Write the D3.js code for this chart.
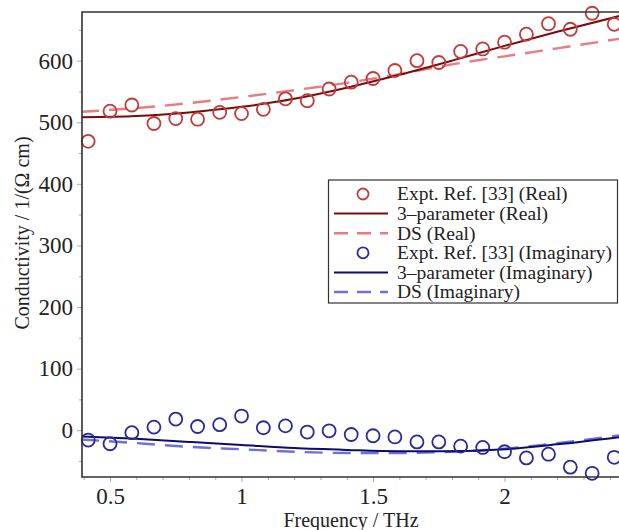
<!DOCTYPE html>
<html>
<head>
<meta charset="utf-8">
<script src="https://cdn.jsdelivr.net/npm/d3@7"></script>
<style>
  html, body { margin: 0; padding: 0; background: #fff; }
  svg { display: block; }
  text { font-family: "Liberation Serif", "DejaVu Serif", serif; fill: #222; }
</style>
</head>
<body>
<script>
// ---- data ----
const exptFreq = [0.417, 0.5, 0.583, 0.667, 0.75, 0.833, 0.917, 1.0, 1.083, 1.167, 1.25, 1.333, 1.417,
                  1.5, 1.583, 1.667, 1.75, 1.833, 1.917, 2.0, 2.083, 2.167, 2.25, 2.333, 2.417];
const exptReal = [469, 518, 528, 498, 506, 505, 516, 514, 521, 538, 535, 554, 565,
                  571, 584, 600, 597, 615, 619, 630, 643, 660, 651, 677, 659];
const exptImag = [-16, -22, -4, 5, 18, 6, 9, 23, 4, 7, -3, -1, -7,
                  -9, -11, -19, -19, -26, -28, -35, -45, -39, -60, -70, -44];

const fitFreq    = [0.39, 0.6, 0.8, 1.0, 1.2, 1.4, 1.6, 1.8, 2.0, 2.2, 2.46];
const threeReal  = [508, 510, 516, 525, 538, 556, 577, 600, 624, 647, 675];
const dsReal     = [517, 523, 531, 541, 552, 564, 578, 594, 607, 620, 637];
const threeImag  = [-10, -14, -19, -24, -29, -32, -34, -34, -31, -23, -10];
const dsImag     = [-15, -21, -27, -31, -35, -37, -37, -35, -30, -21, -7];

const xMajor = [0.5, 1, 1.5, 2];
const xMinor = [0.4, 0.6, 0.7, 0.8, 0.9, 1.1, 1.2, 1.3, 1.4, 1.6, 1.7, 1.8, 1.9, 2.1, 2.2, 2.3, 2.4];
const yMajor = [0, 100, 200, 300, 400, 500, 600];
const yMinor = [-50, 50, 150, 250, 350, 450, 550, 650];

const legendLabels = [
  "Expt. Ref. [33] (Real)",
  "3\u2013parameter (Real)",
  "DS (Real)",
  "Expt. Ref. [33] (Imaginary)",
  "3\u2013parameter (Imaginary)",
  "DS (Imaginary)"
];

(function () {
// ---- layout ----
const W = 619, H = 530;
const pL = 82, pR = 622, pT = 12, pB = 477;

const svg = d3.select("body").append("svg").attr("width", W).attr("height", H);

const x = d3.scaleLinear().domain([0.3935, 2.4465]).range([pL, pR]);
const y = d3.scaleLinear().domain([-76, 679]).range([pB, pT]);

const colors = {
  redPt: "#c33a3a", redLine: "#7d0a0a", redDash: "#ea7b80",
  bluePt: "#2a2a9c", blueLine: "#0b0b70", blueDash: "#6f6fe0"
};

svg.append("defs").append("clipPath").attr("id", "clip")
  .append("rect").attr("x", pL).attr("y", pT).attr("width", pR - pL).attr("height", pB - pT);

// ---- axes ----
const tickColor = "#aaa";
const fontTick = 23;

const xAxisMajor = svg.append("g").attr("transform", `translate(0,${pB})`)
  .call(d3.axisBottom(x).tickValues(xMajor).tickSize(5).tickPadding(6).tickFormat(d3.format("")));
xAxisMajor.select(".domain").remove();
xAxisMajor.selectAll("line").attr("stroke", tickColor);
xAxisMajor.selectAll("text").attr("font-size", fontTick).attr("font-family", "Liberation Serif").attr("fill", "#222");

const xAxisMinor = svg.append("g").attr("transform", `translate(0,${pB})`)
  .call(d3.axisBottom(x).tickValues(xMinor).tickSize(3).tickFormat(""));
xAxisMinor.select(".domain").remove();
xAxisMinor.selectAll("line").attr("stroke", tickColor);

const yAxisMajor = svg.append("g").attr("transform", `translate(${pL},0)`)
  .call(d3.axisLeft(y).tickValues(yMajor).tickSize(5).tickPadding(4));
yAxisMajor.select(".domain").remove();
yAxisMajor.selectAll("line").attr("stroke", tickColor);
yAxisMajor.selectAll("text").attr("font-size", fontTick).attr("font-family", "Liberation Serif").attr("fill", "#222");

const yAxisMinor = svg.append("g").attr("transform", `translate(${pL},0)`)
  .call(d3.axisLeft(y).tickValues(yMinor).tickSize(3).tickFormat(""));
yAxisMinor.select(".domain").remove();
yAxisMinor.selectAll("line").attr("stroke", tickColor);

// ---- curves ----
const plot = svg.append("g").attr("clip-path", "url(#clip)");

function lineFor(vals) {
  return d3.line()
    .x((d, i) => x(fitFreq[i]))
    .y(d => y(d))
    .curve(d3.curveMonotoneX)(vals);
}

plot.append("path").attr("d", lineFor(dsReal)).attr("fill", "none")
  .attr("stroke", colors.redDash).attr("stroke-width", 2.4).attr("stroke-dasharray", "18,10");
plot.append("path").attr("d", lineFor(threeReal)).attr("fill", "none")
  .attr("stroke", colors.redLine).attr("stroke-width", 2);
plot.append("path").attr("d", lineFor(dsImag)).attr("fill", "none")
  .attr("stroke", colors.blueDash).attr("stroke-width", 2.4).attr("stroke-dasharray", "18,10");
plot.append("path").attr("d", lineFor(threeImag)).attr("fill", "none")
  .attr("stroke", colors.blueLine).attr("stroke-width", 2);

// ---- points ----
const r = 6.5;
svg.append("g").selectAll("circle").data(exptReal).join("circle")
  .attr("cx", (d, i) => x(exptFreq[i])).attr("cy", d => y(d)).attr("r", r)
  .attr("fill", "none").attr("stroke", colors.redPt).attr("stroke-width", 1.8);
svg.append("g").selectAll("circle").data(exptImag).join("circle")
  .attr("cx", (d, i) => x(exptFreq[i])).attr("cy", d => y(d)).attr("r", r)
  .attr("fill", "none").attr("stroke", colors.bluePt).attr("stroke-width", 1.8);

// ---- frame ----
svg.append("path")
  .attr("d", `M${pR},${pT}H${pL}V${pB}H${pR}`)
  .attr("fill", "none").attr("stroke", "#333").attr("stroke-width", 1.6);

// ---- axis labels ----
svg.append("text").attr("x", 351).attr("y", 527).attr("text-anchor", "middle")
  .attr("font-size", 20).text("Frequency / THz");
svg.append("text").attr("transform", "translate(29,233) rotate(-90)").attr("text-anchor", "middle")
  .attr("font-size", 20).text("Conductivity / 1/(\u03A9 cm)");

// ---- legend ----
const lg = svg.append("g");
lg.append("rect").attr("x", 328.5).attr("y", 180).attr("width", 289).attr("height", 123)
  .attr("fill", "#fff").attr("stroke", "#333").attr("stroke-width", 1.2);

const legendKinds = [
  { type: "pt", color: colors.redPt },
  { type: "line", color: colors.redLine },
  { type: "dash", color: colors.redDash },
  { type: "pt", color: colors.bluePt },
  { type: "line", color: colors.blueLine },
  { type: "dash", color: colors.blueDash }
];
const rowY0 = 194, rowStep = 19.6;
legendKinds.forEach((k, i) => {
  const cy = rowY0 + i * rowStep;
  if (k.type === "pt") {
    lg.append("circle").attr("cx", 363).attr("cy", cy).attr("r", 5.5)
      .attr("fill", "none").attr("stroke", k.color).attr("stroke-width", 1.8);
  } else if (k.type === "line") {
    lg.append("line").attr("x1", 334).attr("x2", 388).attr("y1", cy).attr("y2", cy)
      .attr("stroke", k.color).attr("stroke-width", 2);
  } else {
    lg.append("line").attr("x1", 334).attr("x2", 388).attr("y1", cy).attr("y2", cy)
      .attr("stroke", k.color).attr("stroke-width", 2.4).attr("stroke-dasharray", "14,9");
  }
  lg.append("text").attr("x", 397).attr("y", cy).attr("dy", "0.33em")
    .attr("font-size", 19.5).text(legendLabels[i]);
});
})();
</script>
</body>
</html>
